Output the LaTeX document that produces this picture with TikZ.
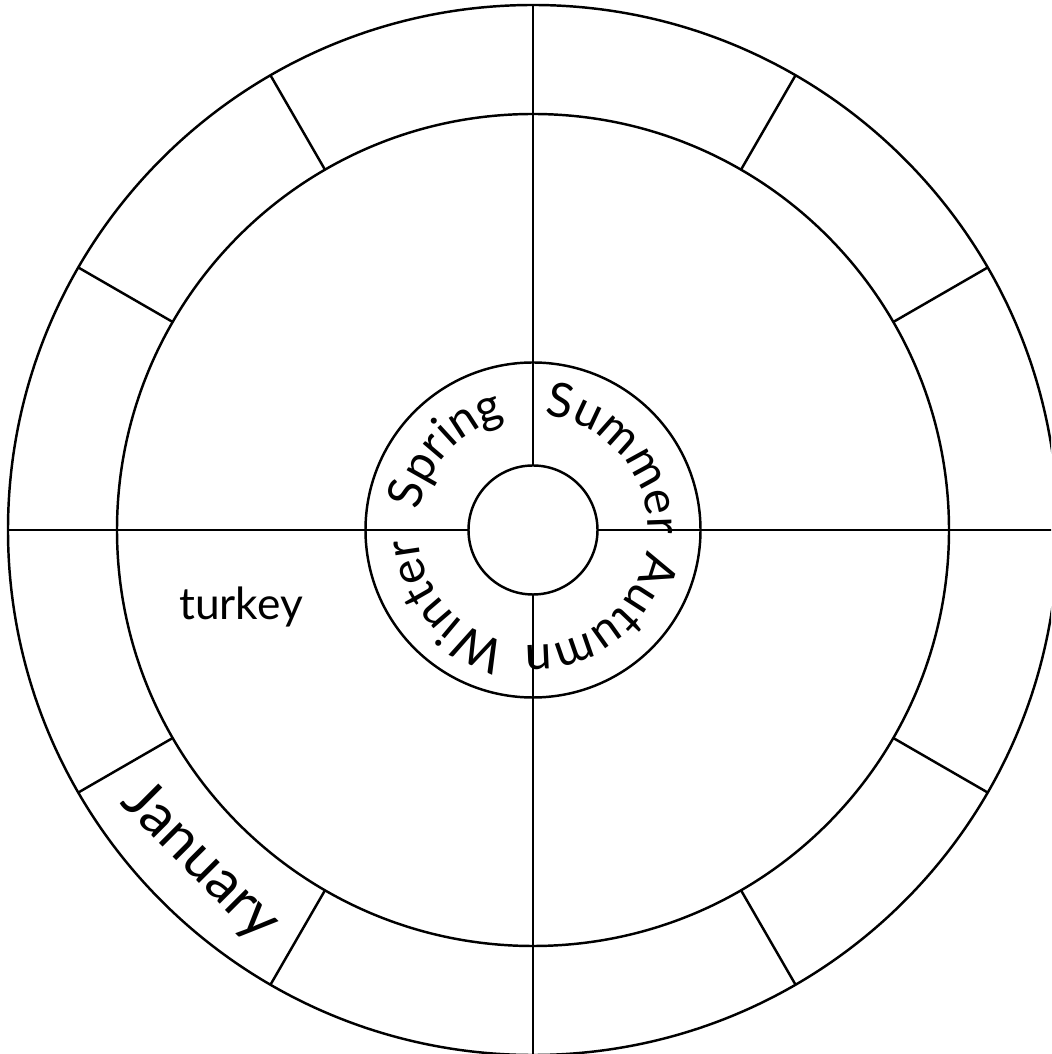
\documentclass[tikz,border=0pt]{standalone}
\usepackage{fontspec}
\setmainfont{Lato}
\usetikzlibrary{decorations.text}
\newcommand\seasonfont{\fontsize{13.6pt}{16pt}\selectfont}
\newcommand\monthfont{\fontsize{16.5pt}{20pt}\selectfont}
\newcommand\wordfont{\fontsize{12.6pt}{16pt}\selectfont}

\begin{document}
\begin{tikzpicture}[line width=0.7pt,
  season/.style={decorate,decoration={text along path,text align=center,text={#1}}}]
\useasboundingbox (-5.33,-5.24) rectangle (5.18,5.30);
\clip (-5.33,-5.24) rectangle (5.18,5.30);
\draw (0,0) circle (5.25);
\draw (0,0) circle (4.16);
\draw (0,0) circle (1.675);
\draw (0,0) circle (0.645);
\foreach \a in {0,90,180,270}
  \draw (\a:0.645) -- (\a:5.25);
\foreach \a in {30,60,120,150,210,240,300,330}
  \draw (\a:4.16) -- (\a:5.25);
{\seasonfont
\path[season=Spring] (182:1.15) arc (182:92:1.15);
\path[season=Summer] (86:1.15) arc (86:-4:1.15);
\path[season=Autumn] (-7:1.15) arc (-7:-97:1.15);
\path[season=Winter] (-94:1.15) arc (-94:-184:1.15);
}
\node[font=\monthfont,rotate=-45] (jan) at (225:4.7) {January};
\node[font=\wordfont] (turkey) at (-2.92,-0.77) {turkey};
\end{tikzpicture}
\end{document}
